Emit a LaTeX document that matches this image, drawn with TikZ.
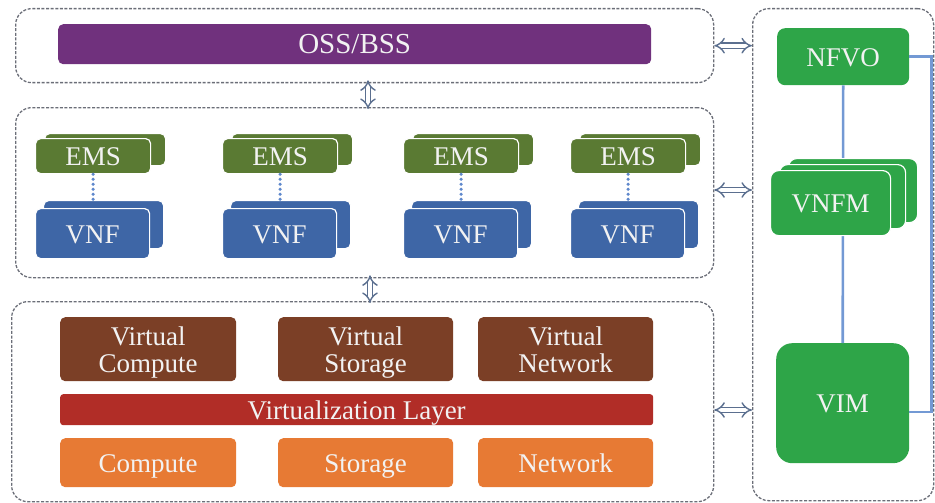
\documentclass[tikz,border=0pt]{standalone}
\usepackage{fontspec}
\setmainfont{Liberation Serif}
\usetikzlibrary{arrows.meta, calc}

\definecolor{framec}{HTML}{6B6E78}
\definecolor{arrowc}{HTML}{5B6F8F}
\definecolor{ossc}{HTML}{70317D}
\definecolor{emsc}{HTML}{5A7A33}
\definecolor{vnfc}{HTML}{3E66A6}
\definecolor{nfvc}{HTML}{2EA548}
\definecolor{virtc}{HTML}{7B3F26}
\definecolor{layerc}{HTML}{B12D27}
\definecolor{hwc}{HTML}{E77A34}
\definecolor{linkc}{HTML}{7399D4}
\definecolor{dotc}{HTML}{5F88CC}
\definecolor{txtc}{HTML}{F2F2F2}

% two-line label with a fixed baseline position
\newcommand{\twolines}[2]{\rule{0pt}{25pt}#1\\#2\vphantom{p}}

\begin{document}
\begin{tikzpicture}[x=1pt, y=-1pt,
  container/.style={draw=framec, dash pattern=on 3pt off 1.6pt, line width=1.3pt,
    rounded corners=16pt, anchor=north west, inner sep=0pt},
  block/.style={rounded corners=5pt, anchor=north west, inner sep=0pt, text=txtc,
    align=center, font=\fontsize{27}{27}\selectfont},
  one/.style={text height=19pt, text depth=0pt},
  card/.style={block, one, draw=white, line width=1.2pt},
  link/.style={draw=linkc, line width=2.6pt},
  dots/.style={draw=dotc, line width=3.4pt, line cap=round, dash pattern=on 0pt off 5pt},
  hollow/.style={draw=arrowc, line width=1.4pt, double=white, double distance=4pt,
    {Implies[length=5pt, width=14pt]}-{Implies[length=5pt, width=14pt]}},
  reach/.style={shorten <=-3pt, shorten >=-2pt}]

\useasboundingbox (0,0) rectangle (935,503);

% dashed frames
\node[container, minimum width=698, minimum height=74] (top) at (15,8) {};
\node[container, minimum width=698, minimum height=170] (mid) at (15,107) {};
\node[container, minimum width=702, minimum height=200] (bot) at (11,301) {};
\node[container, minimum width=181, minimum height=492] (mano) at (752,8) {};

% OSS/BSS
\node[block, one, fill=ossc, minimum width=593, minimum height=40,
  font=\fontsize{29}{30}\selectfont] (oss) at (58,24) {OSS/BSS};

% EMS / VNF pairs
\foreach \x [count=\i] in {35,222,403,570} {
  \node[card, fill=emsc, minimum width=121, minimum height=32] (emsB\i) at (\x+9,133) {};
  \node[card, fill=emsc, minimum width=115, minimum height=35] (ems\i) at (\x,138) {EMS};
  \node[card, fill=vnfc, minimum width=120, minimum height=48] (vnfB\i) at (\x+8,200) {};
  \node[card, fill=vnfc, minimum width=114, minimum height=50] (vnf\i) at (\x,208) {VNF};
  \draw[dots] (ems\i.south) -- (ems\i.south |- vnfB\i.north);
}

% infrastructure
\node[block, fill=virtc, minimum width=176, minimum height=64] (vcomp) at (60,317) {\twolines{Virtual}{Compute}};
\node[block, fill=virtc, minimum width=175, minimum height=64] (vstor) at (278,317) {\twolines{Virtual}{Storage}};
\node[block, fill=virtc, minimum width=175, minimum height=64] (vnet) at (478,317) {\twolines{Virtual}{Network}};
\node[block, one, fill=layerc, minimum width=593, minimum height=31, rounded corners=3pt] (vlayer) at (60,394) {Virtualization Layer};
\node[block, one, fill=hwc, minimum width=176, minimum height=49] (comp) at (60,438) {Compute};
\node[block, one, fill=hwc, minimum width=175, minimum height=49] (stor) at (278,438) {Storage};
\node[block, one, fill=hwc, minimum width=175, minimum height=49] (net) at (478,438) {Network};

% MANO
\node[block, one, fill=nfvc, minimum width=132, minimum height=57, rounded corners=8pt] (nfvo) at (777,28) {NFVO};
\node[block, one, fill=nfvc, minimum width=133, minimum height=120, rounded corners=16pt] (vim) at (776,343) {VIM};
\draw[link] (nfvo.south) -- (vim.north);
\draw[link] (nfvo.east) -- ++(22,0) coordinate (loop) -- (loop |- 0,412) -- (vim.east |- 0,412);
\node[card, fill=nfvc, minimum width=129, minimum height=64, rounded corners=8pt] (vnfmB2) at (788,158) {};
\node[card, fill=nfvc, minimum width=126, minimum height=64, rounded corners=8pt] (vnfmB1) at (779,164) {};
\node[card, fill=nfvc, minimum width=120, minimum height=65, rounded corners=8pt] (vnfm) at (770,170) {VNFM};

% reference points between the layers
\draw[hollow, reach] (368,0 |- top.south) -- (368,0 |- mid.north);
\draw[hollow, reach] (370,0 |- mid.south) -- (370,0 |- bot.north);
\draw[hollow] (top.east) -- (top.east -| mano.west);
\draw[hollow] (mid.east |- 0,190) -- (mano.west |- 0,190);
\draw[hollow] (bot.east |- 0,410) -- (mano.west |- 0,410);
\end{tikzpicture}
\end{document}
